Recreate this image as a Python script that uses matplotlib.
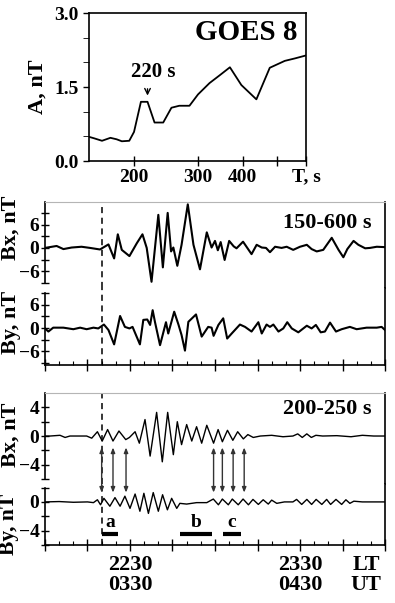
import matplotlib
matplotlib.use('Agg')
import matplotlib.pyplot as plt
from matplotlib.patches import ConnectionPatch
from matplotlib.ticker import MultipleLocator

# GOES 8 amplitude spectrum (period T in s, amplitude A in nT)
goes_T = [150, 155, 163, 172, 179, 185, 194, 200, 209, 218, 228, 241, 254, 267,
          285, 301, 324, 346, 369, 397, 437, 476, 524, 559, 600]
goes_A = [0.49, 0.46, 0.41, 0.47, 0.44, 0.40, 0.41, 0.59, 1.20, 1.20, 0.78, 0.78,
          1.08, 1.12, 1.12, 1.35, 1.58, 1.74, 1.90, 1.54, 1.25, 1.89, 2.03, 2.08, 2.14]

# time axis: minutes after 2200 LT (0300 UT)
# 150-600 s band
bx1_t = [0, 4.1, 6.5, 9.4, 12.9, 15.9, 19.4, 22.4, 24.4, 25.7, 27.1, 29.8, 32.4, 34.4,
         35.9, 37.6, 40.0, 41.6, 43.3, 44.5, 45.3, 46.7, 48.2, 50.4, 52.4, 54.7, 57.1,
         58.8, 60.0, 61.0, 62.0, 63.4, 65.0, 66.6, 67.6, 69.9, 72.9, 74.7, 76.5, 78.0,
         79.4, 81.2, 83.5, 85.3, 87.6, 90.0, 92.4, 94.1, 95.9, 98.2, 101.2, 103.6,
         105.3, 106.7, 108.9, 110.6, 113.0, 114.7, 117.1, 120]
bx1_v = [0, 0.5, -0.3, 0.1, 0.3, 0, -0.4, 0.9, -2.7, 3.5, -0.5, -2.1, 1.2, 3.5,
         0, -8.7, 8.5, -5.0, 9.0, -0.9, 0.1, -4.6, 0.8, 11.2, 0.8, -5.5, 4.0,
         0.1, 1.8, -0.6, 1.5, -3.1, 1.8, 0.4, -0.1, 1.6, -1.6, 0.8, 0.1, 0,
         -1.1, 0.3, 0, 0.3, -0.5, 0.3, 0.8, -0.3, -0.9, -0.5, 2.6, -0.5,
         -2.4, -0.3, 1.8, 0.8, -0.1, 0, 0.3, 0.2]
by1_t = [0, 1.2, 2.9, 6.5, 10.0, 12.4, 14.7, 17.1, 18.8, 20.8, 22.4, 24.4, 26.5, 28.2,
         29.8, 30.9, 33.5, 34.7, 36.1, 37.1, 38.0, 38.8, 40.6, 42.7, 43.5, 45.6, 47.1,
         48.2, 49.4, 50.6, 53.3, 55.3, 57.6, 58.8, 59.5, 61.2, 62.9, 64.3, 65.9, 68.8,
         70.6, 72.9, 75.3, 76.5, 78.2, 79.4, 80.6, 82.4, 84.1, 85.5, 87.1, 89.4, 92.4,
         94.1, 95.6, 97.3, 98.8, 100.6, 102.7, 104.7, 107.6, 110.0, 113.5, 117.1, 118.8, 120]
by1_v = [-0.1, -0.9, 0.1, 0.1, -0.3, 0.1, -0.3, 0.1, -0.1, 0.9, -0.5, -4.2, 3.1, 0.3,
         -0.1, 0.3, -4.2, 2.1, 2.2, 0.8, 4.6, 1.6, -4.4, 1.5, -1.4, 4.2, 0.9,
         -1.8, -5.8, 1.6, 3.5, -2.2, 0.3, 0.1, -2.0, 0.8, 2.5, -2.7, -1.4, 0.9,
         0.3, -0.9, 1.5, -1.4, 0.9, 0.3, 0.9, -0.9, -0.1, 1.5, -0.1, -1.1, 0.6,
         -0.1, 0.8, -1.1, -0.9, 1.4, -0.9, -0.3, 0.3, -0.3, 0.1, 0.1, 0.3, -0.5]

# 200-250 s band
bx2_t = [0, 1.8, 5.3, 7.1, 8.8, 12.4, 14.7, 16.5, 18.5, 20.2, 22.1, 24.0, 26.1, 28.5,
         29.8, 31.8, 33.3, 35.3, 37.1, 39.4, 41.4, 43.3, 45.3, 46.7, 48.2, 50.0, 51.8,
         53.5, 55.3, 57.1, 59.5, 61.1, 62.6, 64.4, 66.3, 68.0, 70.0, 71.6, 73.5, 76,
         80, 84, 87.5, 89.2, 90.8, 92.4, 94.0, 95.6, 98, 103, 108, 112, 116, 120]
bx2_v = [0, 0, 0.1, -0.2, 0, 0, 0, -0.3, 0.6, -0.7, 0.9, -0.7, 0.7, -0.5,
         -0.2, 0.6, -1.0, 2.3, -2.8, 3.3, -3.6, 3.3, -2.6, 2.0, -1.2, 1.6, -0.7,
         1.3, -1.0, 1.5, -1.0, 0.9, -0.8, 0.8, -0.6, 0.6, -0.4, 0.2, -0.2, 0,
         0.1, -0.1, 0, 0.3, -0.2, 0.3, -0.2, 0.1, 0, 0.05, -0.1, 0.1, 0, 0]
by2_t = [0, 5, 10, 15, 17.1, 18.5, 19.6, 20.8, 22.9, 24.7, 26.5, 28.2, 30.0, 31.8,
         33.5, 34.9, 36.5, 38.2, 40.0, 41.5, 43.2, 44.7, 46.5, 47.6, 50.0, 53.5, 57.1,
         59.4, 61.2, 62.6, 64.7, 66.1, 68.2, 69.9, 71.8, 73.4, 75.3, 77.0, 78.8, 80.0,
         81.8, 84.5, 87.5, 88.8, 90.6, 92.4, 94.1, 95.7, 97.7, 99.4, 100.8, 102.7,
         104.7, 106.2, 107.6, 109, 112, 116, 120]
by2_v = [0, 0.05, -0.05, 0, -0.1, 0.3, -0.4, 0.5, -0.6, 0.6, -0.6, 0.8, -0.9, 1.1,
         -1.3, 1.2, -1.6, 1.3, -1.3, 1.0, -1.1, 0.5, -0.9, -0.2, -0.3, -0.1, -0.1,
         0.4, -0.4, 0.4, -0.4, 0.4, -0.4, 0.4, -0.4, 0.35, -0.35, 0.3, -0.3, 0.25,
         -0.2, 0, 0, 0.35, -0.35, 0.35, -0.35, 0.35, -0.35, 0.35, -0.35, 0.35,
         -0.35, 0.3, -0.2, 0.1, 0, 0, 0]

onset_t = 20
arrow_t = [20.0, 24.0, 28.6, 59.5, 62.6, 66.4, 70.3]
interval_names = ['a', 'b', 'c']
interval_start = [20.0, 47.8, 62.9]
interval_end = [25.9, 58.8, 69.1]
time_ticks = [0, 15, 30, 45, 60, 75, 90, 105, 120]
time_labels = ['', '', '2230\n0330', '', '', '', '2330\n0430', '', '']

plt.rcParams['font.family'] = ['Liberation Serif', 'DejaVu Serif']
plt.rcParams['font.weight'] = 'bold'

fig = plt.figure(figsize=(3.95, 6.03), dpi=100)

# ---- top: GOES 8 spectrum
ax0 = fig.add_axes([0.2253, 0.733, 0.5494, 0.2454])
ax0.plot(goes_T, goes_A, color='black', lw=1.3)
ax0.set_xscale('log')
ax0.minorticks_off()
ax0.set_xlim(150, 600)
ax0.set_ylim(0, 3)
ax0.set_xticks([200, 300, 400, 500, 600])
ax0.set_xticklabels(['200', '300', '400', '', 'T, s'])
ax0.set_yticks([0, 1.5, 3])
ax0.set_yticklabels(['0.0', '1.5', '3.0'])
ax0.set_yticks([0.5, 1, 2, 2.5], minor=True)
ax0.tick_params(axis='both', labelsize=14, width=1)
ax0.tick_params(axis='x', direction='inout', length=7, pad=2)
ax0.tick_params(axis='y', which='both', direction='out', length=4)
for s in ax0.spines.values():
    s.set_linewidth(1.2)
ax0.text(0.96, 0.87, 'GOES 8', transform=ax0.transAxes, ha='right', va='center', fontsize=21)
ax0.annotate('', xy=(218, 1.27), xytext=(218, 1.52),
             arrowprops=dict(arrowstyle='->', color='black', lw=1))
ax0.text(226, 1.80, '220 s', ha='center', va='center', fontsize=15)
fig.text(0.094, 0.856, 'A, nT', rotation=90, ha='center', va='center', fontsize=16)


def time_axes(rect, ylim, bounds, major, minor, top, bottom):
    ax = fig.add_axes(rect)
    ax.set_xlim(0, 120)
    ax.set_ylim(*ylim)
    ax.spines['left'].set_bounds(*bounds)
    ax.spines['left'].set_linewidth(1.2)
    ax.spines['right'].set_linewidth(1.2)
    ax.spines['top'].set_visible(top)
    ax.spines['top'].set_color('#b5b5b5')
    ax.spines['bottom'].set_visible(bottom)
    ax.spines['bottom'].set_linewidth(1.2)
    ax.set_yticks(major)
    ax.set_yticks(minor, minor=True)
    ax.tick_params(axis='y', which='both', direction='inout', length=6, width=1, labelsize=14, pad=1)
    ax.xaxis.set_minor_locator(MultipleLocator(5))
    ax.set_xticks(time_ticks)
    ax.set_xticklabels([])
    if bottom:
        ax.tick_params(axis='x', which='major', direction='inout', length=8, width=1)
        ax.tick_params(axis='x', which='minor', direction='in', length=3, width=0.8)
    else:
        ax.tick_params(axis='x', which='both', length=0)
    ax.axvline(onset_t, color='black', lw=1.1, ls=(0, (4, 3)))
    return ax


# ---- middle: 150-600 s
ax1 = time_axes([0.1139, 0.5224, 0.8608, 0.1426], (-10.3, 11.8), (-9, 11.8),
                [-6, 0, 6], [-9, -3, 3, 9], True, False)
ax1.plot(bx1_t, bx1_v, color='black', lw=1.5)
ax1.text(0.96, 0.76, '150-600 s', transform=ax1.transAxes, ha='right', va='center', fontsize=16)

ax2 = time_axes([0.1139, 0.3947, 0.8608, 0.1277], (-9.5, 10.3), (-9.5, 9),
                [-6, 0, 6], [-9, -3, 3, 9], False, True)
ax2.plot(by1_t, by1_v, color='black', lw=1.5)

# ---- bottom: 200-250 s
ax3 = time_axes([0.1139, 0.1973, 0.8608, 0.1509], (-6.7, 6.0), (-6, 6),
                [-4, 0, 4], [-6, -2, 2], True, False)
ax3.plot(bx2_t, bx2_v, color='black', lw=1.0)
ax3.text(0.96, 0.82, '200-250 s', transform=ax3.transAxes, ha='right', va='center', fontsize=16)

ax4 = time_axes([0.1139, 0.0962, 0.8608, 0.1012], (-6.0, 2.5), (-6, 2),
                [-4, 0], [-6, -2, 2], False, True)
ax4.plot(by2_t, by2_v, color='black', lw=1.0)
ax4.set_xticklabels(time_labels)
ax4.tick_params(axis='x', labelsize=16, pad=3)
for lab in ax4.get_xticklabels():
    lab.set_linespacing(1.0)
ax4.text(0.944, -0.16, 'LT\nUT', transform=ax4.transAxes, ha='center', va='top',
         fontsize=16, linespacing=1.0)

# arrows linking Bx and By
for t in arrow_t:
    con = ConnectionPatch(xyA=(t, -1.6), coordsA=ax3.transData,
                          xyB=(t, 1.3), coordsB=ax4.transData,
                          arrowstyle='<|-|>,head_length=0.3,head_width=0.12',
                          mutation_scale=10, color='#333333', lw=1.0)
    fig.add_artist(con)

# a, b, c intervals
for name, t0, t1 in zip(interval_names, interval_start, interval_end):
    ax4.plot([t0, t1], [-4.4, -4.4], color='black', lw=3, solid_capstyle='butt')
    ax4.text((t0 + t1) / 2, -4.0, name, ha='center', va='bottom', fontsize=14)

fig.text(0.028, 0.622, 'Bx, nT', rotation=90, ha='center', va='center', fontsize=16)
fig.text(0.028, 0.466, 'By, nT', rotation=90, ha='center', va='center', fontsize=16)
fig.text(0.026, 0.279, 'Bx, nT', rotation=90, ha='center', va='center', fontsize=16)
fig.text(0.022, 0.130, 'By, nT', rotation=90, ha='center', va='center', fontsize=15.5)

plt.savefig('out.png', dpi=100)
